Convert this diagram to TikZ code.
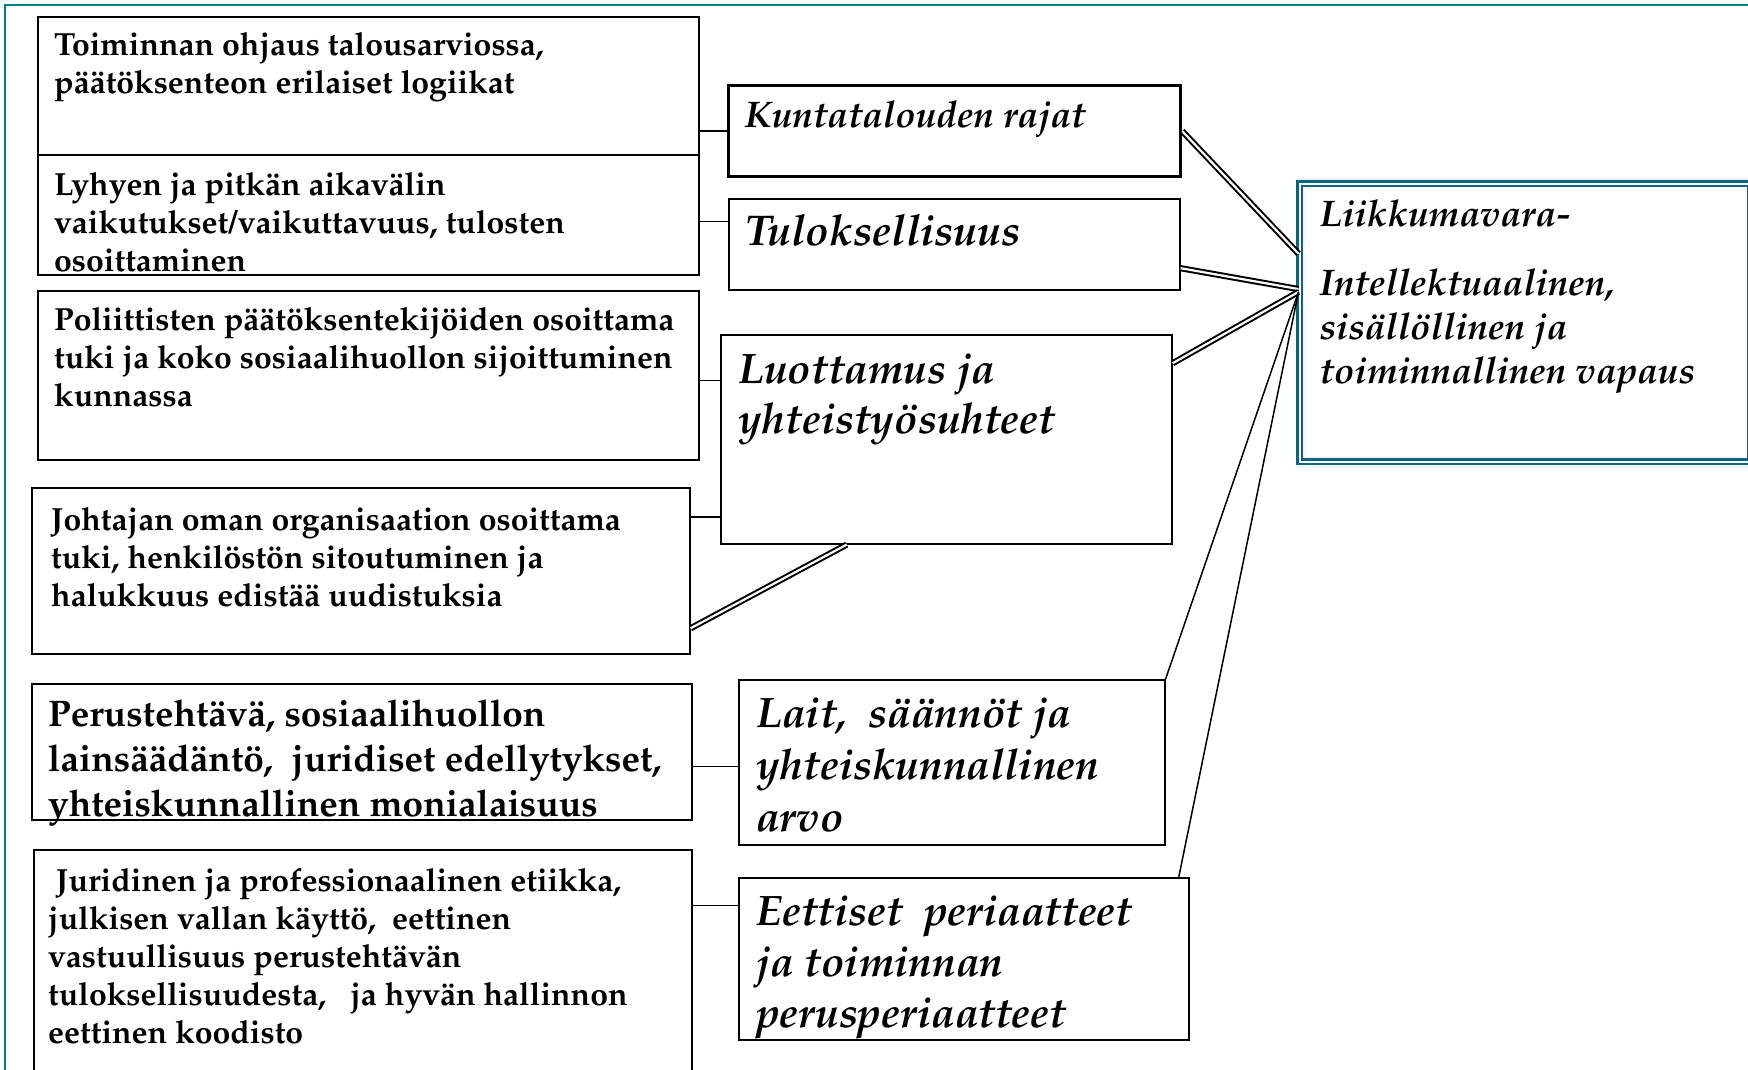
\documentclass[tikz,border=0pt]{standalone}
\usepackage[T1]{fontenc}
\usepackage{mathpazo}
\usetikzlibrary{calc}

\definecolor{frameteal}{RGB}{0,128,128}
\definecolor{rimblue}{RGB}{16,96,128}

\begin{document}
\begin{tikzpicture}[x=1pt,y=-1pt,
  box/.style={draw,line width=1.6pt,anchor=north west,inner sep=0pt},
  txt/.style={anchor=north west,inner sep=0pt,align=left},
  lefttxt/.style={txt,font=\fontsize{32}{38}\selectfont\bfseries},
  midtxt/.style={txt,font=\fontsize{42.6}{51}\selectfont\bfseries\itshape},
  link/.style={line width=1.5pt},
  dbl/.style={draw=black,double=white,line width=2pt,double distance=2.2pt}]
  \useasboundingbox (0,0) rectangle (1748,1070);
  \clip (0,0) rectangle (1748,1070);
  \draw[frameteal,line width=2pt] (5,5) rectangle (1800,1100);

  % left column
  \node[box,minimum width=661pt,minimum height=138pt] (B1) at (37,16) {};
  \node[box,minimum width=661pt,minimum height=120pt] (B2) at (37,154) {};
  \node[box,minimum width=661pt,minimum height=169pt] (B3) at (37,290) {};
  \node[box,minimum width=658pt,minimum height=166pt] (B4) at (31,487) {};
  \node[box,minimum width=660pt,minimum height=136pt] (B5) at (31,683) {};
  \node[box,minimum width=658pt,minimum height=240pt] (B6) at (33,849) {};

  \node[lefttxt] at ($(B1.north west)+(17,16)$)
    {Toiminnan ohjaus talousarviossa,\\päätöksenteon erilaiset logiikat};
  \node[lefttxt] at ($(B2.north west)+(17,18)$)
    {Lyhyen ja pitkän aikavälin\\vaikutukset/vaikuttavuus, tulosten\\osoittaminen};
  \node[lefttxt] at ($(B3.north west)+(17,17)$)
    {Poliittisten päätöksentekijöiden osoittama\\tuki ja koko sosiaalihuollon sijoittuminen\\kunnassa};
  \node[lefttxt] at ($(B4.north west)+(20,20)$)
    {Johtajan oman organisaation osoittama\\tuki, henkilöstön sitoutuminen ja\\halukkuus edistää uudistuksia};
  \node[lefttxt,font=\fontsize{37}{44.6}\selectfont\bfseries] at ($(B5.north west)+(17,17)$)
    {Perustehtävä, sosiaalihuollon\\lainsäädäntö,\ \ juridiset edellytykset,\\yhteiskunnallinen monialaisuus};
  \node[lefttxt] at ($(B6.north west)+(15,19)$)
    {\ Juridinen ja professionaalinen etiikka,\\julkisen vallan käyttö,\ \ eettinen\\vastuullisuus perustehtävän\\tuloksellisuudesta,\ \ \ ja hyvän hallinnon\\eettinen koodisto};

  % middle column
  \node[box,line width=3.2pt,minimum width=452pt,minimum height=91pt] (M1) at (727,84) {};
  \node[box,minimum width=451pt,minimum height=91pt] (M2) at (728,198) {};
  \node[box,minimum width=451pt,minimum height=209pt] (M3) at (720,334) {};
  \node[box,minimum width=426pt,minimum height=165pt] (M4) at (738,679) {};
  \node[box,minimum width=450pt,minimum height=162pt] (M5) at (738,877) {};

  \node[midtxt,font=\fontsize{37}{44}\selectfont\bfseries\itshape] at ($(M1.north west)+(18,17)$)
    {Kuntatalouden rajat};
  \node[midtxt,font=\fontsize{43}{50}\selectfont\bfseries\itshape] at ($(M2.north west)+(17,17)$)
    {Tuloksellisuus};
  \node[midtxt,font=\fontsize{42.6}{50}\selectfont\bfseries\itshape] at ($(M3.north west)+(18,19)$)
    {Luottamus ja\\yhteistyösuhteet};
  \node[midtxt,font=\fontsize{42.6}{52}\selectfont\bfseries\itshape] at ($(M4.north west)+(18,18)$)
    {Lait,\ \ säännöt ja\\yhteiskunnallinen\\arvo};
  \node[midtxt] at ($(M5.north west)+(18,18)$)
    {Eettiset\ \ periaatteet\\ja toiminnan\\perusperiaatteet};

  % target box
  \node[box,draw=rimblue,double=white,line width=2.4pt,double distance=2pt,
    minimum width=451pt,minimum height=278pt] (R) at (1298.5,182.5) {};
  \node[txt,font=\fontsize{37}{44}\selectfont\bfseries\itshape] at ($(R.north west)+(21,18)$)
    {Liikkumavara-\\[25pt]Intellektuaalinen,\\sisällöllinen ja\\toiminnallinen vapaus};

  % left to middle
  \draw[link] (M1.west) -- (M1.west -| B1.east);
  \coordinate (m2in) at ($(M2.north west)!.255!(M2.south west)$);
  \draw[link] (m2in) -- (m2in -| B2.east);
  \coordinate (m3a) at ($(M3.north west)!.22!(M3.south west)$);
  \draw[link] (m3a) -- (m3a -| B3.east);
  \coordinate (m3b) at ($(M3.north west)!.87!(M3.south west)$);
  \draw[link] (m3b) -- (m3b -| B4.east);
  \coordinate (m4in) at ($(M4.north west)!.525!(M4.south west)$);
  \draw[link] (m4in) -- (m4in -| B5.east);
  \coordinate (m5in) at ($(M5.north west)!.173!(M5.south west)$);
  \draw[link] (m5in) -- (m5in -| B6.east);
  \coordinate (b4out) at ($(B4.north east)!.843!(B4.south east)$);
  \coordinate (m3foot) at ($(M3.south west)!.28!(M3.south east)$);
  \draw[dbl] (b4out) -- (m3foot);

  % middle to target
  \coordinate (r1) at ($(R.north west)!.254!(R.south west)$);
  \coordinate (hub) at ($(R.north west)!.39!(R.south west)$);
  \coordinate (m2out) at ($(M2.north east)!.758!(M2.south east)$);
  \coordinate (m3out) at ($(M3.north east)!.139!(M3.south east)$);
  \coordinate (m5top) at ($(M5.north west)!.976!(M5.north east)$);
  \draw[dbl] (M1.east) -- (r1);
  \draw[dbl] (m2out) -- ($(R.north west)!.38!(R.south west)$);
  \draw[dbl] (m3out) -- (hub);
  \draw[link] (M4.north east) -- (hub);
  \draw[link] (m5top) -- (hub);
\end{tikzpicture}
\end{document}
